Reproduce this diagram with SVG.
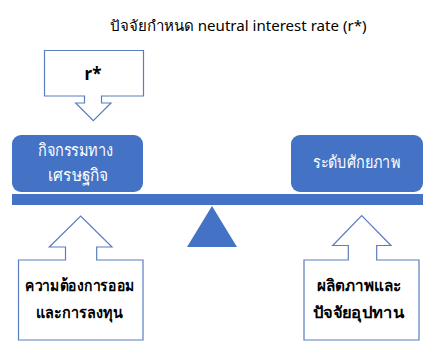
<svg xmlns="http://www.w3.org/2000/svg" width="430" height="349" viewBox="0 0 430 349">
<style>
.t{font-family:"Noto Sans","DejaVu Sans",sans-serif;text-anchor:middle}
.title{font-size:15px;fill:#000}
.w{font-size:17px;fill:#fff}
.b{font-size:16px;fill:#000;font-weight:bold}
.call{fill:#fff;stroke:#5a7dbf;stroke-width:1.2}
.blue{fill:#4472c4}
</style>
<rect width="430" height="349" fill="#fff"/>
<text class="t title" x="238" y="31" textLength="257" lengthAdjust="spacingAndGlyphs">ปัจจัยกำหนด neutral interest rate (r*)</text>
<g id="rstar">
<path class="call" d="M44.5,50.5 H143.5 V96 H101.5 V103 H111 L93.3,120.7 L75.7,103 H84.5 V96 H44.5 Z"/>
<text class="t b" x="93" y="80" style="font-size:17px">r*</text>
</g>
<g id="beam">
<rect class="blue" x="12" y="194" width="411" height="11"/>
<polygon class="blue" points="212,206 237,247 187,247"/>
</g>
<g id="econ">
<rect class="blue" x="12" y="135" width="131" height="57" rx="9"/>
<text class="t w" x="75.5" y="156" textLength="75" lengthAdjust="spacingAndGlyphs">กิจกรรมทาง</text>
<text class="t w" x="78" y="180.5" textLength="60" lengthAdjust="spacingAndGlyphs">เศรษฐกิจ</text>
</g>
<g id="potential">
<rect class="blue" x="291" y="135" width="132" height="57" rx="9"/>
<text class="t w" x="356.5" y="168" textLength="87" lengthAdjust="spacingAndGlyphs">ระดับศักยภาพ</text>
</g>
<g id="saving">
<path class="call" d="M18.5,260 H65.5 V247 H49.3 L80.7,216 L112,247 H96.7 V260 H143 V340 H18.5 Z"/>
<text class="t b" x="80" y="291" textLength="110" lengthAdjust="spacingAndGlyphs">ความต้องการออม</text>
<text class="t b" x="79.5" y="318" textLength="87" lengthAdjust="spacingAndGlyphs">และการลงทุน</text>
</g>
<g id="productivity">
<path class="call" d="M304,260 H348.3 V245.5 H332.7 L361.7,215.7 L391,245.5 H376.7 V260 H419 V340 H304 Z"/>
<text class="t b" x="359.5" y="291" textLength="85" lengthAdjust="spacingAndGlyphs">ผลิตภาพและ</text>
<text class="t b" x="358.5" y="318" textLength="91" lengthAdjust="spacingAndGlyphs">ปัจจัยอุปทาน</text>
</g>
<g id="connectors"></g>
</svg>
